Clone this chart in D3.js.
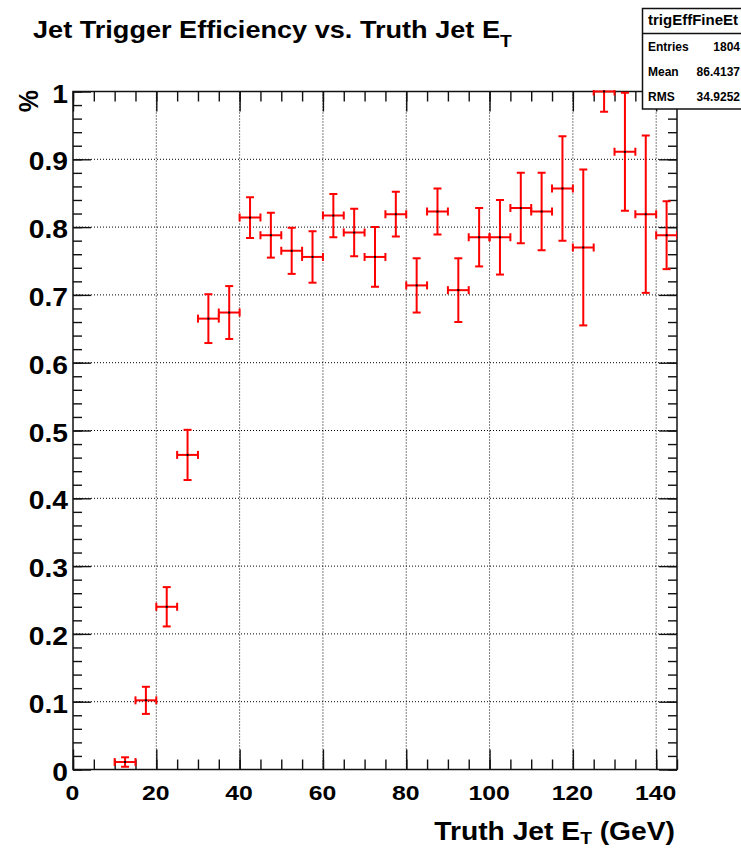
<!DOCTYPE html>
<html>
<head>
<meta charset="utf-8">
<script src="https://cdn.jsdelivr.net/npm/d3@7"></script>
<style>
  body { margin: 0; background: #fff; }
  svg text { font-family: "Liberation Sans", Arial, Helvetica, sans-serif; font-weight: bold; fill: #000; }
</style>
</head>
<body>
<svg id="chart" width="741" height="848"></svg>
<script>
// ---- data: trigger efficiency per 5 GeV bin of truth jet E_T ----
const binCenter = [12.5, 17.5, 22.5, 27.5, 32.5, 37.5, 42.5, 47.5, 52.5, 57.5,
                   62.5, 67.5, 72.5, 77.5, 82.5, 87.5, 92.5, 97.5, 102.5, 107.5,
                   112.5, 117.5, 122.5, 127.5, 132.5, 137.5, 142.5];
const efficiency = [0.011, 0.102, 0.240, 0.464, 0.665, 0.674, 0.814, 0.788, 0.765, 0.756,
                    0.817, 0.792, 0.756, 0.819, 0.714, 0.823, 0.707, 0.785, 0.785, 0.828,
                    0.823, 0.857, 0.770, 1.000, 0.911, 0.819, 0.788];
const effError = [0.007, 0.020, 0.029, 0.037, 0.036, 0.039, 0.030, 0.033, 0.034, 0.038,
                  0.032, 0.035, 0.044, 0.033, 0.040, 0.034, 0.047, 0.043, 0.055, 0.052,
                  0.057, 0.077, 0.115, 0.030, 0.087, 0.116, 0.050];
const binHalfWidth = 2.5;

// ---- axis ticks and labels ----
const xTickValues = [0, 20, 40, 60, 80, 100, 120, 140];
const xTickLabels = ["0", "20", "40", "60", "80", "100", "120", "140"];
const yTickValues = [0, 0.1, 0.2, 0.3, 0.4, 0.5, 0.6, 0.7, 0.8, 0.9, 1];
const yTickLabels = ["0", "0.1", "0.2", "0.3", "0.4", "0.5", "0.6", "0.7", "0.8", "0.9", "1"];
const xMinorStep = 5;
const yMinorStep = 0.02;

// ---- texts ----
const titleMain = "Jet Trigger Efficiency vs. Truth Jet E";
const titleSub = "T";
const xTitleMain = "Truth Jet E";
const xTitleSub = "T";
const xTitleTail = " (GeV)";
const yTitle = "%";
const statsName = "trigEffFineEt";
const statsRows = [["Entries", "1804"], ["Mean", "86.4137"], ["RMS", "34.9252"]];

// ---- layout ----
const frame = { left: 73, right: 677, top: 91.5, bottom: 769.5 };
const xDomain = [0, 145];
const yDomain = [0, 1];
const textStretch = 1.13;

const svg = d3.select("#chart");
const x = d3.scaleLinear().domain(xDomain).range([frame.left, frame.right]);
const y = d3.scaleLinear().domain(yDomain).range([frame.bottom, frame.top]);

const xMinor = d3.range(xDomain[0], xDomain[1] + 0.001, xMinorStep);
const yMinor = d3.range(yDomain[0], yDomain[1] + 0.0001, yMinorStep);

// dotted grid
const grid = svg.append("g").attr("stroke", "#000").attr("stroke-width", 1)
  .attr("stroke-dasharray", "1,2");
grid.selectAll("line.gx").data(xTickValues.filter(v => v > xDomain[0] && v < xDomain[1]))
  .join("line").attr("class", "gx")
  .attr("x1", d => x(d)).attr("x2", d => x(d))
  .attr("y1", frame.top).attr("y2", frame.bottom);
grid.selectAll("line.gy").data(yTickValues.filter(v => v > yDomain[0] && v < yDomain[1]))
  .join("line").attr("class", "gy")
  .attr("y1", d => y(d)).attr("y2", d => y(d))
  .attr("x1", frame.left).attr("x2", frame.right);

// axes on all four sides, ticks pointing inward
function styleAxis(g) {
  g.select(".domain").remove();
  g.selectAll(".tick line").attr("stroke", "#111").attr("stroke-width", 1.4);
}
const fmtX = (d) => xTickLabels[xTickValues.indexOf(d)];
const fmtY = (d) => yTickLabels[yTickValues.findIndex(v => Math.abs(v - d) < 1e-9)];

// bottom
svg.append("g").attr("transform", `translate(0,${frame.bottom})`)
  .call(d3.axisBottom(x).tickValues(xMinor).tickSize(-10).tickFormat(""))
  .call(styleAxis);
const xAxisG = svg.append("g").attr("transform", `translate(0,${frame.bottom})`)
  .call(d3.axisBottom(x).tickValues(xTickValues).tickSize(-20).tickFormat(fmtX))
  .call(styleAxis);
xAxisG.selectAll(".tick text")
  .attr("y", null).attr("dy", null)
  .attr("font-size", 21).attr("text-anchor", "middle")
  .attr("transform", `translate(-1,30) scale(${textStretch + 0.05},1)`);

// top
svg.append("g").attr("transform", `translate(0,${frame.top})`)
  .call(d3.axisTop(x).tickValues(xMinor).tickSize(-10).tickFormat(""))
  .call(styleAxis);
svg.append("g").attr("transform", `translate(0,${frame.top})`)
  .call(d3.axisTop(x).tickValues(xTickValues).tickSize(-20).tickFormat(""))
  .call(styleAxis);

// left
svg.append("g").attr("transform", `translate(${frame.left},0)`)
  .call(d3.axisLeft(y).tickValues(yMinor).tickSize(-9).tickFormat(""))
  .call(styleAxis);
const yAxisG = svg.append("g").attr("transform", `translate(${frame.left},0)`)
  .call(d3.axisLeft(y).tickValues(yTickValues).tickSize(-18).tickFormat(fmtY))
  .call(styleAxis);
yAxisG.selectAll(".tick text")
  .attr("x", null).attr("dy", null)
  .attr("font-size", 25).attr("text-anchor", "end")
  .attr("transform", `translate(-5,10.5) scale(${textStretch},1)`);

// right
svg.append("g").attr("transform", `translate(${frame.right},0)`)
  .call(d3.axisRight(y).tickValues(yMinor).tickSize(-9).tickFormat(""))
  .call(styleAxis);
svg.append("g").attr("transform", `translate(${frame.right},0)`)
  .call(d3.axisRight(y).tickValues(yTickValues).tickSize(-18).tickFormat(""))
  .call(styleAxis);

// frame
svg.append("rect")
  .attr("x", frame.left).attr("y", frame.top)
  .attr("width", frame.right - frame.left).attr("height", frame.bottom - frame.top)
  .attr("fill", "none").attr("stroke", "#111").attr("stroke-width", 1.5);

// error bars (clipped to the frame)
svg.append("clipPath").attr("id", "plotClip").append("rect")
  .attr("x", frame.left).attr("y", frame.top - 1.5)
  .attr("width", frame.right - frame.left).attr("height", frame.bottom - frame.top + 1.5);

const points = binCenter.map((c, i) => ({ c, v: efficiency[i], e: effError[i] }));
const cap = 4;
const pts = svg.append("g").attr("clip-path", "url(#plotClip)")
  .attr("stroke", "#ff0000").attr("stroke-width", 2).attr("fill", "none");
const pg = pts.selectAll("g.pt").data(points).join("g").attr("class", "pt");
// horizontal bar (bin width)
pg.append("line")
  .attr("x1", d => x(d.c - binHalfWidth)).attr("x2", d => x(d.c + binHalfWidth))
  .attr("y1", d => y(d.v)).attr("y2", d => y(d.v));
pg.append("line")
  .attr("x1", d => x(d.c - binHalfWidth)).attr("x2", d => x(d.c - binHalfWidth))
  .attr("y1", d => y(d.v) - cap).attr("y2", d => y(d.v) + cap);
pg.append("line")
  .attr("x1", d => x(d.c + binHalfWidth)).attr("x2", d => x(d.c + binHalfWidth))
  .attr("y1", d => y(d.v) - cap).attr("y2", d => y(d.v) + cap);
// vertical bar (statistical error)
pg.append("line")
  .attr("x1", d => x(d.c)).attr("x2", d => x(d.c))
  .attr("y1", d => y(d.v - d.e)).attr("y2", d => y(d.v + d.e));
pg.append("line")
  .attr("x1", d => x(d.c) - cap).attr("x2", d => x(d.c) + cap)
  .attr("y1", d => y(d.v + d.e)).attr("y2", d => y(d.v + d.e));
pg.append("line")
  .attr("x1", d => x(d.c) - cap).attr("x2", d => x(d.c) + cap)
  .attr("y1", d => y(d.v - d.e)).attr("y2", d => y(d.v - d.e));
// point marker
pg.append("rect")
  .attr("x", d => x(d.c) - 1).attr("y", d => y(d.v) - 1)
  .attr("width", 2).attr("height", 2)
  .attr("fill", "#000").attr("stroke", "none");

// histogram title
const title = svg.append("text")
  .attr("font-size", 24)
  .attr("transform", `translate(33,37.5) scale(${textStretch},1)`);
title.append("tspan").text(titleMain);
title.append("tspan").attr("font-size", 17).attr("dy", 9).text(titleSub);

// x axis title
const xt = svg.append("text")
  .attr("font-size", 25).attr("text-anchor", "end")
  .attr("transform", `translate(675,840) scale(${textStretch},1)`);
xt.append("tspan").text(xTitleMain);
xt.append("tspan").attr("font-size", 17).attr("dy", 4).text(xTitleSub);
xt.append("tspan").attr("dy", -4).text(xTitleTail);

// y axis title
svg.append("text")
  .attr("font-size", 25).attr("text-anchor", "end")
  .attr("transform", `translate(38,90) scale(${textStretch},1) rotate(-90)`)
  .text(yTitle);

// statistics box
const stats = svg.append("g");
stats.append("rect")
  .attr("x", 642.5).attr("y", 8.5).attr("width", 130).attr("height", 100.5)
  .attr("fill", "#fff").attr("stroke", "#111").attr("stroke-width", 1.5);
stats.append("line")
  .attr("x1", 642.5).attr("x2", 772).attr("y1", 33.5).attr("y2", 33.5)
  .attr("stroke", "#111").attr("stroke-width", 1.5);
stats.append("text").attr("x", 648).attr("y", 25).attr("font-size", 15).text(statsName);
statsRows.forEach((r, i) => {
  const by = 50.5 + i * 25;
  stats.append("text").attr("x", 648).attr("y", by).attr("font-size", 12).text(r[0]);
  stats.append("text").attr("x", 740).attr("y", by).attr("font-size", 12)
    .attr("text-anchor", "end").text(r[1]);
});
</script>
</body>
</html>
